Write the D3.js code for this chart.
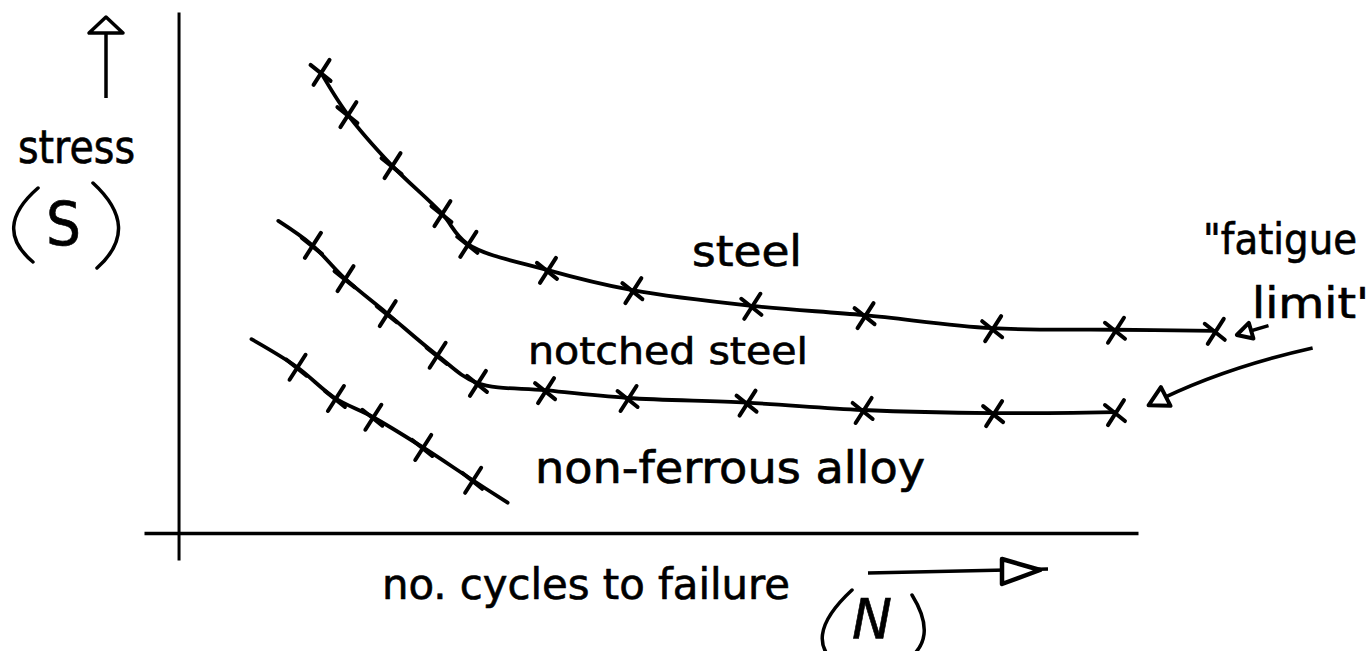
<!DOCTYPE html>
<html>
<head>
<meta charset="utf-8">
<script src="https://cdn.jsdelivr.net/npm/d3@7"></script>
<style>
  html, body { margin: 0; padding: 0; background: #fff; }
  svg { display: block; }
  text { font-family: "DejaVu Sans Condensed", "Liberation Sans Narrow", sans-serif; fill: #000; stroke: #000; stroke-width: 0.6px; }
</style>
</head>
<body>
<svg></svg>
<script>
// S-N sketch: cycles to failure (N) vs stress (S), arbitrary units
let steelN = [14.8, 17.6, 22.2, 27.4, 30.1, 38.4, 47.3, 59.7, 71.5, 84.8, 97.6, 108.0]
let steelS = [88.5, 80.4, 70.6, 61.4, 55.5, 50.5, 46.6, 43.6, 41.8, 39.3, 39.0, 38.8]

let notchedN = [10.4, 13.9, 17.3, 21.7, 26.9, 31.1, 38.2, 46.8, 59.2, 71.3, 84.9, 97.6]
let notchedS = [59.9, 55.3, 48.9, 42.2, 34.2, 28.8, 27.4, 25.9, 25.0, 23.6, 23.0, 23.2]

let alloyN = [7.6, 12.3, 16.3, 20.2, 25.4, 30.6, 34.3]
let alloyS = [37.2, 31.9, 25.9, 22.3, 16.5, 10.2, 5.8]

// first/last vertices of a pen stroke that carry no "x"
let steelPlain = []
let notchedPlain = [0]
let alloyPlain = [0, 6]

let width = 1370
let height = 651

let svg = d3.select('svg')
let xScale
let yScale

let drawCanvas = () => {
    svg.attr('width', width)
    svg.attr('height', height)
}

let genScales = () => {
    xScale = d3.scaleLinear()
                .domain([-3.6, 100])
                .range([144, 1138])
    yScale = d3.scaleLinear()
                .domain([-5.2, 100])
                .range([560, 12])
}

let genAxes = () => {
    let xAxis = d3.axisBottom(xScale).tickValues([]).tickSizeOuter(0)
    let yAxis = d3.axisLeft(yScale).tickValues([]).tickSizeOuter(0)

    svg.append('g')
        .call(xAxis)
        .attr('transform', 'translate(0, ' + yScale(0) + ')')
        .select('.domain')
        .attr('stroke', '#000')
        .attr('stroke-width', 3.5)

    svg.append('g')
        .call(yAxis)
        .attr('transform', 'translate(' + xScale(0) + ', 0)')
        .select('.domain')
        .attr('stroke', '#000')
        .attr('stroke-width', 3)
}

let drawSeries = (ns, ss, plain) => {
    let pts = ns.map((n, i) => [n, ss[i], i])
    let line = d3.line()
                .x(d => xScale(d[0]))
                .y(d => yScale(d[1]))
                .curve(d3.curveCatmullRom.alpha(0.5))

    svg.append('path')
        .datum(pts)
        .attr('d', line)
        .attr('fill', 'none')
        .attr('stroke', '#000')
        .attr('stroke-width', 3.8)
        .attr('stroke-linecap', 'round')

    svg.append('g')
        .selectAll('path')
        .data(pts.filter(d => !plain.includes(d[2])))
        .enter()
        .append('path')
        .attr('transform', d => 'translate(' + xScale(d[0]) + ',' + yScale(d[1]) + ')')
        .attr('d', 'M-10,-7L10,9M9,-12L-7,13')
        .attr('stroke', '#000')
        .attr('stroke-width', 4)
        .attr('stroke-linecap', 'round')
        .attr('fill', 'none')
}

let arrowHead = (tip, from, size) => {
    let a = Math.atan2(tip[1] - from[1], tip[0] - from[0])
    let b1 = [tip[0] - size * Math.cos(a - 0.5), tip[1] - size * Math.sin(a - 0.5)]
    let b2 = [tip[0] - size * Math.cos(a + 0.5), tip[1] - size * Math.sin(a + 0.5)]
    svg.append('path')
        .attr('d', 'M' + tip + 'L' + b1 + 'L' + b2 + 'Z')
        .attr('fill', '#fff')
        .attr('stroke', '#000')
        .attr('stroke-width', 4)
        .attr('stroke-linejoin', 'round')
}

let genArrows = () => {
    // vertical arrow above "stress"
    svg.append('path').attr('d', 'M106,98L106,32')
        .attr('stroke', '#000').attr('stroke-width', 3.5)
    svg.append('path').attr('d', 'M89,33L123,33L106,17Z')
        .attr('fill', '#fff').attr('stroke', '#000').attr('stroke-width', 3.5).attr('stroke-linejoin', 'round')

    // arrow next to "(N)"
    svg.append('path').attr('d', 'M868,573L1048,569')
        .attr('stroke', '#000').attr('stroke-width', 3.5)
    svg.append('path').attr('d', 'M1002,559L1040,570L1002,584Z')
        .attr('fill', '#fff').attr('stroke', '#000').attr('stroke-width', 4.5).attr('stroke-linejoin', 'round')

    // fatigue limit pointers, in chart units
    let t1 = [xScale(110.3), yScale(38.0)]
    let f1 = [xScale(113.6), yScale(39.8)]
    svg.append('path').attr('d', 'M' + f1 + 'L' + t1)
        .attr('stroke', '#000').attr('stroke-width', 3.5)
    arrowHead(t1, f1, 17)

    let t2 = [xScale(101.1), yScale(24.5)]
    let f2 = [xScale(118.2), yScale(35.5)]
    let c2 = [xScale(108.5), yScale(31.5)]
    svg.append('path').attr('d', 'M' + f2 + 'Q' + c2 + ' ' + t2)
        .attr('fill', 'none').attr('stroke', '#000').attr('stroke-width', 3.5)
    arrowHead(t2, c2, 22)
}

let genText = () => {
    let labels = [
        { t: 'stress', x: 18, y: 163, size: 46, len: 117 },
        { t: 'steel', x: 692, y: 266, size: 42, len: 110 },
        { t: 'notched steel', x: 528, y: 364, size: 38, len: 280 },
        { t: 'non-ferrous alloy', x: 535, y: 483, size: 44, len: 390 },
        { t: 'no. cycles to failure', x: 382, y: 599, size: 42, len: 408 },
        { t: '"fatigue', x: 1203, y: 254, size: 42, len: 154 },
        { t: "limit'", x: 1252, y: 318, size: 42, len: 117 }
    ]
    svg.selectAll('text.lab')
        .data(labels)
        .enter()
        .append('text')
        .attr('class', 'lab')
        .attr('x', d => d.x)
        .attr('y', d => d.y)
        .attr('textLength', d => d.len)
        .attr('lengthAdjust', 'spacingAndGlyphs')
        .style('font-size', d => d.size + 'px')
        .text(d => d.t)

    // (S) and (N) with hand drawn brackets
    let brackets = ['M38,188Q-8,228 33,262', 'M93,183Q142,228 97,268',
                    'M852,590Q798,640 842,668', 'M912,595Q940,640 904,662']
    svg.selectAll('path.br')
        .data(brackets)
        .enter()
        .append('path')
        .attr('class', 'br')
        .attr('d', d => d)
        .attr('fill', 'none')
        .attr('stroke', '#000')
        .attr('stroke-width', 3.5)
        .attr('stroke-linecap', 'round')

    svg.append('text').attr('x', 46).attr('y', 245)
        .attr('textLength', 35).attr('lengthAdjust', 'spacingAndGlyphs')
        .style('font-size', '60px').text('S')
    svg.append('text').attr('x', 852).attr('y', 638)
        .attr('textLength', 40).attr('lengthAdjust', 'spacingAndGlyphs')
        .style('font-size', '56px').style('font-style', 'italic').text('N')
}

drawCanvas()
genScales()
genAxes()
drawSeries(steelN, steelS, steelPlain)
drawSeries(notchedN, notchedS, notchedPlain)
drawSeries(alloyN, alloyS, alloyPlain)
genArrows()
genText()
</script>
</body>
</html>
